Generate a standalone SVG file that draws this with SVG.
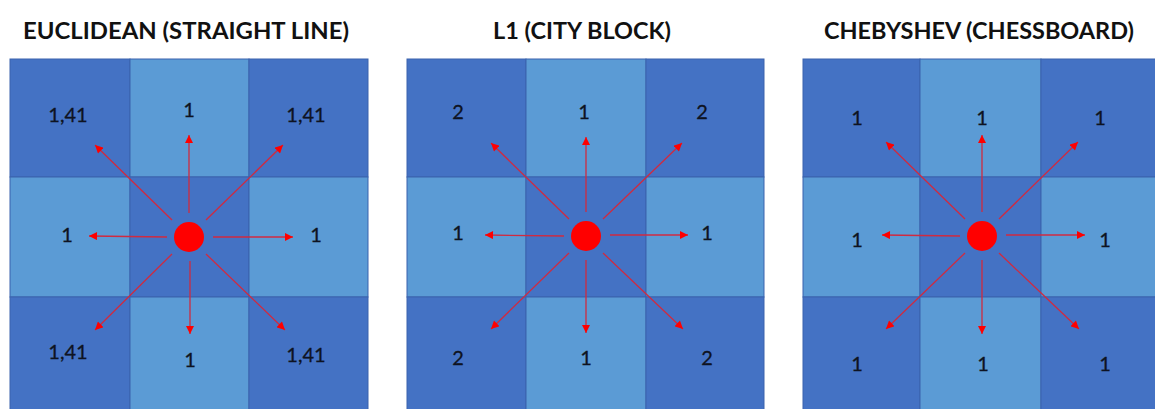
<svg xmlns="http://www.w3.org/2000/svg" width="1155" height="409" viewBox="0 0 1155 409">
  <style>
    .title { font-family: Lato, "Open Sans", "Liberation Sans", sans-serif; font-weight: 700; font-size: 22px; fill: #111; text-anchor: middle; }
    .lbl { font-family: Lato, "Open Sans", "Liberation Sans", sans-serif; font-size: 20px; fill: #0e1322; stroke: #0e1322; stroke-width: 0.3; text-anchor: middle; }
    .dark { fill: #4472C4; stroke: #3b63ad; stroke-width: 1; }
    .light { fill: #5B9BD5; stroke: #3b63ad; stroke-width: 1; }
    .arrow { stroke: #d02a40; stroke-width: 1.3; fill: none; marker-end: url(#head); }
    .dot { fill: #ff0000; }
  </style>
  <defs>
    <marker id="head" viewBox="0 0 10 10" refX="10" refY="5" markerUnits="userSpaceOnUse" markerWidth="9" markerHeight="8" orient="auto">
      <path d="M0,0 L10,5 L0,10 z" fill="#ff0000"/>
    </marker>
  </defs>
  <rect width="1155" height="409" fill="#ffffff"/>

  <!-- Titles -->
  <text class="title" x="186" y="39" textLength="326" lengthAdjust="spacingAndGlyphs">EUCLIDEAN (STRAIGHT LINE)</text>
  <text class="title" x="582" y="39" textLength="178" lengthAdjust="spacingAndGlyphs">L1 (CITY BLOCK)</text>
  <text class="title" x="979" y="39" textLength="310" lengthAdjust="spacingAndGlyphs">CHEBYSHEV (CHESSBOARD)</text>

  <!-- Euclidean grid -->
  <g id="euclidean">
    <rect class="dark" x="10" y="59" width="120" height="118"/>
    <rect class="light" x="130" y="59" width="119" height="118"/>
    <rect class="dark" x="249" y="59" width="119" height="118"/>
    <rect class="light" x="10" y="177" width="120" height="120"/>
    <rect class="dark" x="130" y="177" width="119" height="120"/>
    <rect class="light" x="249" y="177" width="119" height="120"/>
    <rect class="dark" x="10" y="297" width="120" height="120"/>
    <rect class="light" x="130" y="297" width="119" height="120"/>
    <rect class="dark" x="249" y="297" width="119" height="120"/>
    <text class="lbl" x="68" y="122">1,41</text>
    <text class="lbl" x="189" y="117">1</text>
    <text class="lbl" x="306" y="122">1,41</text>
    <text class="lbl" x="67" y="242">1</text>
    <text class="lbl" x="316" y="242">1</text>
    <text class="lbl" x="68" y="359">1,41</text>
    <text class="lbl" x="190" y="367">1</text>
    <text class="lbl" x="306" y="362">1,41</text>
  </g>

  <!-- City block grid -->
  <g id="cityblock">
    <rect class="dark" x="407" y="59" width="119" height="118"/>
    <rect class="light" x="526" y="59" width="120" height="118"/>
    <rect class="dark" x="646" y="59" width="118" height="118"/>
    <rect class="light" x="407" y="177" width="119" height="120"/>
    <rect class="dark" x="526" y="177" width="120" height="120"/>
    <rect class="light" x="646" y="177" width="118" height="120"/>
    <rect class="dark" x="407" y="297" width="119" height="120"/>
    <rect class="light" x="526" y="297" width="120" height="120"/>
    <rect class="dark" x="646" y="297" width="118" height="120"/>
    <text class="lbl" x="458" y="119">2</text>
    <text class="lbl" x="584" y="119">1</text>
    <text class="lbl" x="702" y="119">2</text>
    <text class="lbl" x="458" y="240">1</text>
    <text class="lbl" x="707" y="240">1</text>
    <text class="lbl" x="458" y="365">2</text>
    <text class="lbl" x="586" y="365">1</text>
    <text class="lbl" x="707" y="365">2</text>
  </g>

  <!-- Chessboard grid -->
  <g id="chessboard">
    <rect class="dark" x="803" y="59" width="117" height="118"/>
    <rect class="light" x="920" y="59" width="121" height="118"/>
    <rect class="dark" x="1041" y="59" width="119" height="118"/>
    <rect class="light" x="803" y="177" width="117" height="120"/>
    <rect class="dark" x="920" y="177" width="121" height="120"/>
    <rect class="light" x="1041" y="177" width="119" height="120"/>
    <rect class="dark" x="803" y="297" width="117" height="120"/>
    <rect class="light" x="920" y="297" width="121" height="120"/>
    <rect class="dark" x="1041" y="297" width="119" height="120"/>
    <text class="lbl" x="857" y="125">1</text>
    <text class="lbl" x="982" y="125">1</text>
    <text class="lbl" x="1100" y="125">1</text>
    <text class="lbl" x="857" y="247">1</text>
    <text class="lbl" x="1105" y="247">1</text>
    <text class="lbl" x="857" y="371">1</text>
    <text class="lbl" x="983" y="371">1</text>
    <text class="lbl" x="1105" y="371">1</text>
  </g>

  <!-- Arrows from each centre to its eight neighbours -->
  <g id="connectors">
    <line class="arrow" x1="189" y1="213" x2="189" y2="135"/>
    <line class="arrow" x1="190" y1="261" x2="190" y2="334"/>
    <line class="arrow" x1="167" y1="237" x2="89" y2="236"/>
    <line class="arrow" x1="213" y1="237" x2="293" y2="237"/>
    <line class="arrow" x1="172" y1="220" x2="95" y2="145"/>
    <line class="arrow" x1="206" y1="220" x2="283" y2="145"/>
    <line class="arrow" x1="172" y1="254" x2="95" y2="330"/>
    <line class="arrow" x1="206" y1="254" x2="285" y2="330"/>

    <line class="arrow" x1="586" y1="212" x2="586" y2="137"/>
    <line class="arrow" x1="586" y1="260" x2="586" y2="333"/>
    <line class="arrow" x1="564" y1="236" x2="485" y2="235"/>
    <line class="arrow" x1="610" y1="235" x2="688" y2="235"/>
    <line class="arrow" x1="569" y1="219" x2="491" y2="143"/>
    <line class="arrow" x1="603" y1="219" x2="682" y2="143"/>
    <line class="arrow" x1="569" y1="253" x2="491" y2="329"/>
    <line class="arrow" x1="603" y1="253" x2="683" y2="329"/>

    <line class="arrow" x1="982" y1="212" x2="982" y2="135"/>
    <line class="arrow" x1="982" y1="260" x2="982" y2="334"/>
    <line class="arrow" x1="960" y1="236" x2="882" y2="235"/>
    <line class="arrow" x1="1006" y1="235" x2="1085" y2="235"/>
    <line class="arrow" x1="965" y1="219" x2="886" y2="142"/>
    <line class="arrow" x1="999" y1="219" x2="1078" y2="142"/>
    <line class="arrow" x1="965" y1="253" x2="886" y2="329"/>
    <line class="arrow" x1="999" y1="253" x2="1079" y2="329"/>
  </g>

  <!-- Centre points -->
  <g id="centre-euclidean"><circle class="dot" cx="189" cy="237" r="15"/></g>
  <g id="centre-cityblock"><circle class="dot" cx="586" cy="236" r="15"/></g>
  <g id="centre-chessboard"><circle class="dot" cx="982" cy="236" r="15"/></g>
</svg>
